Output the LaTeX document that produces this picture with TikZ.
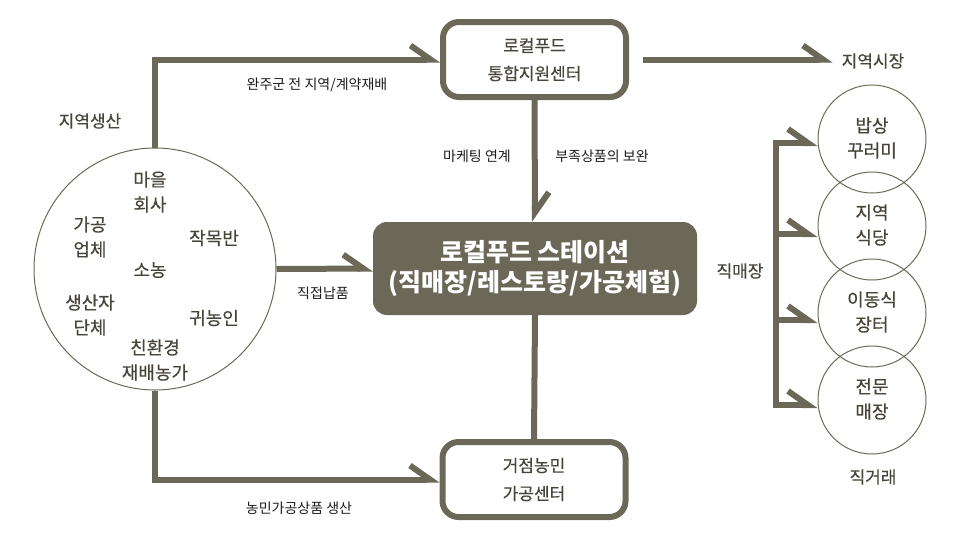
\documentclass[tikz,border=0pt]{standalone}
\usepackage{fontspec}
\setmainfont{Noto Sans CJK KR}
\newfontfamily\medkr[FakeBold=0.35]{Noto Sans CJK KR}
\usetikzlibrary{arrows.meta}
\definecolor{ln}{RGB}{107,104,88}
\definecolor{tx}{RGB}{72,68,58}
\definecolor{lb}{RGB}{28,28,28}
\begin{document}
\begin{tikzpicture}[x=1pt,y=-1pt,
  conn/.style={draw=ln, line width=6pt, line join=miter},
  arr/.style={conn, -{Straight Barb[left,length=20pt,width=28pt]}},
  box/.style={draw=ln, line width=6pt, rounded corners=16pt, fill=white,
    minimum width=183pt, minimum height=75pt, align=center, text=tx,
    font=\medkr\fontsize{17}{28}\selectfont},
  mainbox/.style={fill=ln, rounded corners=14pt, minimum width=324pt,
    minimum height=93pt, align=center, text=white, inner sep=0pt,
    font=\bfseries\fontsize{25}{30}\selectfont},
  ring/.style={circle, draw=ln, line width=1pt, inner sep=0pt},
  ntx/.style={text=tx, align=center, inner sep=1pt, font=\medkr\fontsize{18}{25}\selectfont},
  otx/.style={ntx, font=\medkr\fontsize{17}{22}\selectfont},
  lbl/.style={text=lb, inner sep=1pt, font=\fontsize{14}{17}\selectfont}
]
\useasboundingbox (0,0) rectangle (956,539);

% main boxes
\node[box] (top) at (534.5,59.5) {로컬푸드\\통합지원센터};
\node[box] (bot) at (534,479.5) {거점농민\\가공센터};
\node[mainbox] (main) at (535,268.5) {로컬푸드 스테이션\\(직매장/레스토랑/가공체험)};

% left circle
\node[ring, minimum size=242pt] (lc) at (155,269) {};
\node[ntx] (n1) at (150,192) {마을\\회사};
\node[ntx] (n2) at (90,237) {가공\\업체};
\node[ntx] (n3) at (214,238) {작목반};
\node[ntx] (n4) at (150,270) {소농};
\node[ntx] (n5) at (90,315) {생산자\\단체};
\node[ntx] (n6) at (214,318) {귀농인};
\node[ntx] (n7) at (155,360) {친환경\\재배농가};

% right circles
\node[ring, minimum size=108pt] (r1) at (872,139) {};
\node[ring, minimum size=108pt] (r2) at (872,226) {};
\node[ring, minimum size=108pt] (r3) at (872,313) {};
\node[ring, minimum size=108pt] (r4) at (872,400) {};
\node[ntx] (t1) at (872,138) {밥상\\꾸러미};
\node[ntx] (t2) at (872,225) {지역\\식당};
\node[ntx] (t3) at (872,312) {이동식\\장터};
\node[ntx] (t4) at (872,399) {전문\\매장};

% outside labels
\node[otx] (prod) at (90,121) {지역생산};
\node[otx] (mkt) at (873,61) {지역시장};
\node[otx] (dir) at (740,271) {직매장};
\node[otx] (deal) at (873,477) {직거래};

\node[lbl] (l1) at (317,85) {완주군 전 지역/계약재배};
\node[lbl] (l2) at (477,156) {마케팅 연계};
\node[lbl] (l3) at (602,156) {부족상품의 보완};
\node[lbl] (l4) at (323,293) {직접납품};
\node[lbl] (l5) at (299,508) {농민가공상품 생산};

% connectors
\draw[arr] (lc.north) |- (top.west);
\draw[arr] (lc.south) |- (bot.west);
\draw[arr] (lc.east) -- (main.west);
\draw[arr] (top.south) -- (main.north);
\draw[conn] (main.south) -- (bot.north);
\draw[arr, shorten >=8pt] ([xshift=14pt]top.east) -- (top.east -| mkt.west);

% bracket to right circles
\coordinate (b1) at (776,143);
\coordinate (b2) at (776,234);
\coordinate (b3) at (776,320);
\coordinate (b4) at (776,405);
\draw[arr] (b3) -- (b1) -- (b1 -| r1.west);
\draw[arr] (b2) -- (b4) -- (b4 -| r4.west);
\draw[arr] (b2) -- (b2 -| r2.west);
\draw[arr] (b3) -- (b3 -| r3.west);
\end{tikzpicture}
\end{document}
